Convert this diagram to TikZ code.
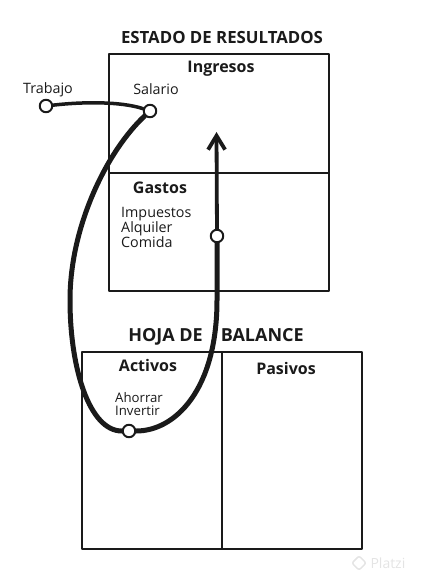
\documentclass[tikz,border=0pt]{standalone}
\usepackage{fontspec}
\setmainfont{Open Sans}
\usepackage{tikz}
\usetikzlibrary{arrows.meta, backgrounds}
\definecolor{ink}{HTML}{1A1A1A}
\definecolor{mark}{HTML}{E4E4E4}

\begin{document}
\begin{tikzpicture}[x=1pt, y=-1pt, line join=round,
    frame/.style={draw=ink, line width=2.8pt},
    hole/.style={circle, draw=ink, fill=white, line width=2pt, minimum size=12.5pt, inner sep=0pt},
    title/.style={font=\bfseries\fontsize{16.8}{19}\selectfont, anchor=base, text=ink},
    head/.style={font=\bfseries\fontsize{16}{18}\selectfont, anchor=base, text=ink},
    lbl/.style={font=\fontsize{14.3}{15}\selectfont, anchor=base, text=ink},
    flow/.style={draw=ink, line width=5pt, line cap=round}]
  \useasboundingbox (0,0) rectangle (422,580);

  % estado de resultados
  \draw[frame] (109,54) rectangle (329,291);
  \draw[frame] (109,173) -- (329,173);
  \node[title] (estado) at (222,44) {ESTADO DE RESULTADOS};
  \node[head] (ingresos) at (221,72.5) {Ingresos};
  \node[head] (gastos) at (160,193) {Gastos};
  \node[lbl, anchor=base west, align=left, inner xsep=0pt] (egresos) at (121,247.5)
    {Impuestos\\Alquiler\\Comida};
  \node[lbl] (trabajo) at (48,94) {Trabajo};
  \node[lbl] (salario) at (156,95) {Salario};

  % hoja de balance
  \draw[frame] (82,352) rectangle (362,549);
  \draw[frame] (222,352) -- (222,549);
  \node[title, font=\bfseries\fontsize{18}{20}\selectfont] (balance) at (216,341)
    {HOJA DE\hspace{18pt}BALANCE};
  \node[head] (activos) at (148,371.5) {Activos};
  \node[head] (pasivos) at (286,374) {Pasivos};
  \node[lbl, anchor=base west, align=left, inner xsep=0pt,
    font=\fontsize{13.2}{12.5}\selectfont] (ahorro) at (115,415) {Ahorrar\\Invertir};

  % puntos
  \node[hole] (trab) at (46,106) {};
  \node[hole] (sal) at (150,111) {};
  \node[hole] (gas) at (217,236) {};
  \node[hole] (aho) at (129,431) {};
  \coordinate (tip) at (216.5,132);

  \begin{scope}[on background layer]
    \draw[flow, line width=3.5pt] (trab) .. controls (80,102) and (120,101) .. (sal);
    \draw[flow] (sal) .. controls (108,150) and (70,225) .. (70,300)
      .. controls (70,370) and (90,431) .. (aho);
    \draw[flow] (aho) .. controls (175,431) and (217,390) .. (217,300) -- (gas);
    \draw[flow, line width=3.8pt, -{Straight Barb[length=14pt, width=17pt]}] (gas) -- (tip);
  \end{scope}

  \node[draw=mark, line width=1.5pt, rotate=45, rounded corners=2pt,
    minimum size=10pt, inner sep=0pt] (logo) at (359,563) {};
  \node[text=mark, font=\fontsize{14}{16}\selectfont, anchor=west] (platzi) at (367,563) {Platzi};
\end{tikzpicture}
\end{document}
